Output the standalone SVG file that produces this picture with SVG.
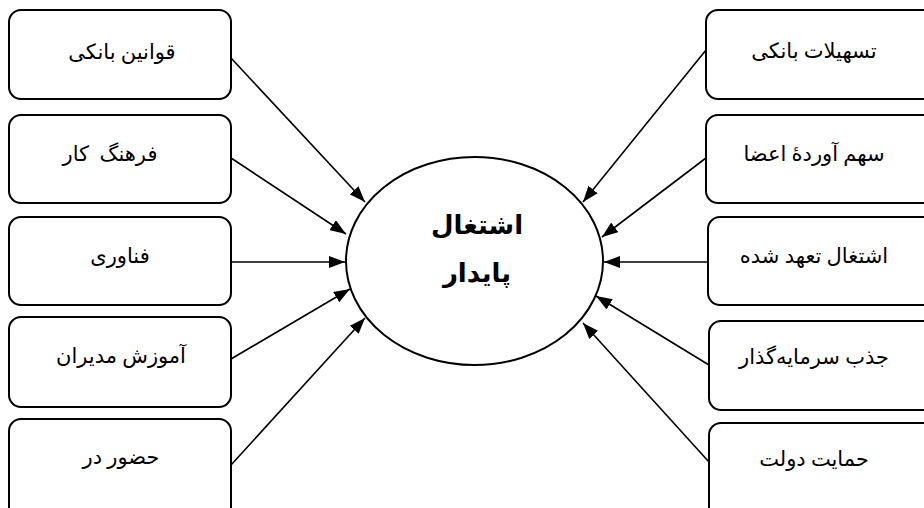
<svg xmlns="http://www.w3.org/2000/svg" width="924" height="508" viewBox="0 0 924 508">
<style>
.box{fill:#fff;stroke:#000;stroke-width:2}
.lbl{font-family:"Liberation Serif","DejaVu Serif","DejaVu Sans",serif;font-size:21px;fill:#000;text-anchor:middle;dominant-baseline:middle;white-space:pre}
.ctr{font-family:"Liberation Serif","DejaVu Serif","DejaVu Sans",serif;font-size:26px;font-weight:bold;fill:#000;text-anchor:middle;dominant-baseline:middle}
.con{stroke:#000;stroke-width:1.6;fill:none;marker-end:url(#ah)}
</style>
<defs>
<marker id="ah" viewBox="0 0 10 10" refX="10" refY="5" markerWidth="16" markerHeight="12" markerUnits="userSpaceOnUse" orient="auto" preserveAspectRatio="none">
<path d="M0,0 L10,5 L0,10 z" fill="#000"/>
</marker>
</defs>
<rect width="924" height="508" fill="#fff"/>
<g id="connectors">
<line class="con" x1="231" y1="58" x2="365" y2="202"/>
<line class="con" x1="231" y1="158" x2="346" y2="234"/>
<line class="con" x1="231" y1="262" x2="345" y2="262"/>
<line class="con" x1="231" y1="359" x2="350" y2="289"/>
<line class="con" x1="231" y1="465" x2="365" y2="318"/>
<line class="con" x1="706" y1="50" x2="583" y2="202"/>
<line class="con" x1="706" y1="158" x2="602" y2="237"/>
<line class="con" x1="708" y1="262" x2="604" y2="262"/>
<line class="con" x1="709" y1="365" x2="596" y2="296"/>
<line class="con" x1="709" y1="462" x2="583" y2="323"/>
</g>
<g id="center">
<ellipse cx="474.5" cy="261" rx="128.5" ry="104" fill="#fff" stroke="#000" stroke-width="2"/>
<text class="ctr" x="477" y="228">اشتغال</text>
<text class="ctr" x="477" y="276">پایدار</text>
</g>
<g id="L1"><rect class="box" x="9" y="10" width="222" height="89" rx="12"/><text class="lbl" x="122" y="54">قوانین بانکی</text></g>
<g id="L2"><rect class="box" x="9" y="115" width="222" height="88" rx="12"/><text class="lbl" x="110" y="156" xml:space="preserve">فرهنگ  کار</text></g>
<g id="L3"><rect class="box" x="9" y="217" width="222" height="88" rx="12"/><text class="lbl" x="120" y="258">فناوری</text></g>
<g id="L4"><rect class="box" x="9" y="317" width="222" height="90" rx="12"/><text class="lbl" x="121" y="358">آموزش مدیران</text></g>
<g id="L5"><rect class="box" x="9" y="419" width="222" height="100" rx="12"/><text class="lbl" x="121" y="459">حضور در</text></g>
<g id="R1"><rect class="box" x="706" y="10" width="230" height="89" rx="12"/><text class="lbl" x="814" y="53">تسهیلات بانکی</text></g>
<g id="R2"><rect class="box" x="706" y="115" width="230" height="88" rx="12"/><text class="lbl" x="814" y="156">سهم آوردهٔ اعضا</text></g>
<g id="R3"><rect class="box" x="708" y="217" width="230" height="88" rx="12"/><text class="lbl" x="814" y="258">اشتغال تعهد شده</text></g>
<g id="R4"><rect class="box" x="709" y="321" width="230" height="89" rx="12"/><text class="lbl" x="814" y="359">جذب سرمایه‌گذار</text></g>
<g id="R5"><rect class="box" x="709" y="423" width="230" height="100" rx="12"/><text class="lbl" x="814" y="461">حمایت دولت</text></g>
</svg>
